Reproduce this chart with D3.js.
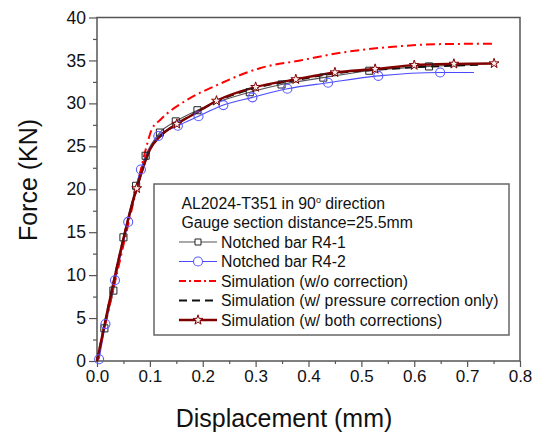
<!DOCTYPE html>
<html>
<head>
<meta charset="utf-8">
<script src="https://cdn.jsdelivr.net/npm/d3@7"></script>
<style>
  body { margin: 0; background: #fff; }
  svg { font-family: "Liberation Sans", Arial, sans-serif; }
</style>
</head>
<body>
<svg id="chart" width="537" height="432"></svg>
<script>
// Data (displacement mm, force kN)
const r41Line = [[0,0],[0.014,3.8],[0.031,8.2],[0.05,14.4],[0.074,20.4],[0.092,23.9],[0.119,26.6],[0.149,27.9],[0.19,29.2],[0.24,30.4],[0.289,31.3],[0.349,32.2],[0.428,33.0],[0.515,33.8],[0.628,34.3],[0.72,34.5]];
const r41Marks = [[0.014,3.8],[0.031,8.2],[0.05,14.4],[0.074,20.4],[0.092,23.9],[0.119,26.6],[0.149,27.9],[0.19,29.2],[0.289,31.3],[0.349,32.2],[0.428,33.0],[0.515,33.8],[0.628,34.3]];

const r42Line = [[0.004,0.2],[0.016,4.3],[0.034,9.4],[0.059,16.2],[0.083,22.3],[0.1,24.8],[0.116,26.2],[0.153,27.4],[0.192,28.5],[0.239,29.8],[0.294,30.7],[0.36,31.7],[0.437,32.4],[0.532,33.2],[0.649,33.6],[0.713,33.6]];
const r42Marks = [[0.004,0.2],[0.016,4.3],[0.034,9.4],[0.059,16.2],[0.083,22.3],[0.116,26.2],[0.153,27.4],[0.192,28.5],[0.239,29.8],[0.294,30.7],[0.36,31.7],[0.437,32.4],[0.532,33.2],[0.649,33.6]];

const simNoCorr = [[0,0],[0.075,20.1],[0.095,25.3],[0.103,26.9],[0.12,28.1],[0.17,30.4],[0.226,32.1],[0.308,34.1],[0.384,35.0],[0.472,36.0],[0.56,36.6],[0.649,36.9],[0.748,36.95]];
const simPressure = [[0,0],[0.075,20.1],[0.09,23.0],[0.1,24.6],[0.12,26.2],[0.151,27.6],[0.19,29.0],[0.226,30.2],[0.3,31.8],[0.376,32.7],[0.45,33.5],[0.526,33.9],[0.6,34.2],[0.675,34.4],[0.73,34.5]];
const simBoth = [[0,0],[0.075,20.1],[0.09,23.0],[0.1,24.6],[0.12,26.2],[0.151,27.6],[0.19,29.0],[0.226,30.3],[0.3,31.9],[0.376,32.8],[0.45,33.6],[0.526,34.0],[0.6,34.45],[0.675,34.6],[0.751,34.65]];
const simBothMarks = [[0.075,20.1],[0.151,27.6],[0.226,30.3],[0.3,31.9],[0.376,32.8],[0.45,33.6],[0.526,34.0],[0.6,34.45],[0.675,34.6],[0.751,34.65]];

const xTicks = [0,0.1,0.2,0.3,0.4,0.5,0.6,0.7,0.8];
const yTicks = [0,5,10,15,20,25,30,35,40];

const legendHeader = ["AL2024-T351 in 90", "Gauge section distance=25.5mm"];
const legendItems = ["Notched bar R4-1", "Notched bar R4-2", "Simulation (w/o correction)",
  "Simulation (w/ pressure correction only)", "Simulation (w/ both corrections)"];

const svg = d3.select("#chart");
const margin = { left: 97, right: 17, top: 17.5, bottom: 71 };
const W = 537, H = 432;

const x = d3.scaleLinear().domain([0, 0.8]).range([margin.left, W - margin.right]);
const y = d3.scaleLinear().domain([0, 40]).range([H - margin.bottom, margin.top]);

const axisColor = "#555";

// frame
svg.append("rect")
  .attr("x", x(0)).attr("y", y(40))
  .attr("width", x(0.8) - x(0)).attr("height", y(0) - y(40))
  .attr("fill", "none").attr("stroke", axisColor).attr("stroke-width", 1.5);

// axes
const xMinor = d3.range(0.05, 0.8, 0.1);
const yMinor = d3.range(2.5, 40, 5);

const gx = svg.append("g").attr("transform", `translate(0,${y(0)})`);
gx.call(d3.axisBottom(x).tickValues(xTicks).tickFormat(d3.format(".1f")).tickSize(6).tickPadding(3));
gx.append("g").call(d3.axisBottom(x).tickValues(xMinor).tickFormat("").tickSize(3));

const gy = svg.append("g").attr("transform", `translate(${x(0)},0)`);
gy.call(d3.axisLeft(y).tickValues(yTicks).tickSize(8).tickPadding(3));
gy.append("g").call(d3.axisLeft(y).tickValues(yMinor).tickFormat("").tickSize(4));

svg.selectAll(".domain").remove();
svg.selectAll(".tick line").attr("stroke", axisColor).attr("stroke-width", 1.2);
gx.selectAll(".tick text").attr("font-size", 17).attr("fill", "#111").attr("font-family", "Liberation Sans, Arial");
gy.selectAll(".tick text").attr("font-size", 17.5).attr("fill", "#111").attr("font-family", "Liberation Sans, Arial");

// axis titles
svg.append("text").attr("x", 284).attr("y", 427).attr("text-anchor", "middle")
  .attr("font-size", 25).attr("fill", "#111").text("Displacement (mm)");
svg.append("text").attr("transform", `translate(37,180) rotate(-90)`).attr("text-anchor", "middle")
  .attr("font-size", 25).attr("fill", "#111").text("Force (KN)");

// lines
const lineSmooth = d3.line().x(d => x(d[0])).y(d => y(d[1])).curve(d3.curveMonotoneX);

const plot = svg.append("g");

plot.append("path").datum(r41Line).attr("d", lineSmooth)
  .attr("fill", "none").attr("stroke", "#555").attr("stroke-width", 1.2);
plot.append("path").datum(r42Line).attr("d", lineSmooth)
  .attr("fill", "none").attr("stroke", "#4a4aff").attr("stroke-width", 1.1);
plot.append("path").datum(simNoCorr).attr("d", lineSmooth)
  .attr("fill", "none").attr("stroke", "#ff0000").attr("stroke-width", 2)
  .attr("stroke-dasharray", "9,4,2,4");
plot.append("path").datum(simPressure).attr("d", lineSmooth)
  .attr("fill", "none").attr("stroke", "#111").attr("stroke-width", 2)
  .attr("stroke-dasharray", "8,5");
plot.append("path").datum(simBoth).attr("d", lineSmooth)
  .attr("fill", "none").attr("stroke", "#800000").attr("stroke-width", 2.4);

// markers
const square = d3.symbol().type(d3.symbolSquare).size(50);
const star = d3.symbol().type(d3.symbolStar).size(30);

plot.selectAll(".sq").data(r41Marks).join("path").attr("class", "sq")
  .attr("transform", d => `translate(${x(d[0])},${y(d[1])})`).attr("d", square)
  .attr("fill", "none").attr("stroke", "#222").attr("stroke-width", 1);
plot.selectAll(".ci").data(r42Marks).join("circle").attr("class", "ci")
  .attr("cx", d => x(d[0])).attr("cy", d => y(d[1])).attr("r", 4.5)
  .attr("fill", "none").attr("stroke", "#5a5aff").attr("stroke-width", 1.1);
plot.selectAll(".st").data(simBothMarks).join("path").attr("class", "st")
  .attr("transform", d => `translate(${x(d[0])},${y(d[1])})`).attr("d", star)
  .attr("fill", "#fbeeee").attr("stroke", "#800000").attr("stroke-width", 1);

// legend
const lg = svg.append("g");
lg.append("rect").attr("x", 154).attr("y", 184).attr("width", 355).attr("height", 151)
  .attr("fill", "#fff").attr("stroke", "#666").attr("stroke-width", 1.5);

const rowY = i => 203 + i * 19.5;
const fs = 15.8;

const h0 = lg.append("text").attr("x", 181.5).attr("y", rowY(0)).attr("dy", "0.35em").attr("font-size", fs).attr("fill", "#111");
h0.append("tspan").text(legendHeader[0]);
h0.append("tspan").attr("font-size", 9).attr("dy", -6).text("o");
h0.append("tspan").attr("dy", 6).text(" direction");
lg.append("text").attr("x", 181.5).attr("y", rowY(1)).attr("dy", "0.35em").attr("font-size", fs).attr("fill", "#111")
  .text(legendHeader[1]);

const styles = [
  { stroke: "#555", w: 1.2, dash: null, mark: "sq" },
  { stroke: "#4a4aff", w: 1.1, dash: null, mark: "ci" },
  { stroke: "#ff0000", w: 2, dash: "7,3,2,3", mark: null },
  { stroke: "#111", w: 2, dash: "8,5", mark: null },
  { stroke: "#800000", w: 2.4, dash: null, mark: "st" }
];

legendItems.forEach((t, i) => {
  const cy = rowY(i + 2);
  const s = styles[i];
  lg.append("line").attr("x1", 179).attr("x2", 217).attr("y1", cy).attr("y2", cy)
    .attr("stroke", s.stroke).attr("stroke-width", s.w).attr("stroke-dasharray", s.dash);
  if (s.mark === "sq") {
    lg.append("path").attr("transform", `translate(198,${cy})`).attr("d", d3.symbol().type(d3.symbolSquare).size(36))
      .attr("fill", "#fff").attr("stroke", "#222").attr("stroke-width", 1);
  } else if (s.mark === "ci") {
    lg.append("circle").attr("cx", 198).attr("cy", cy).attr("r", 4.5)
      .attr("fill", "#fff").attr("stroke", "#5a5aff").attr("stroke-width", 1.1);
  } else if (s.mark === "st") {
    lg.append("path").attr("transform", `translate(198,${cy})`).attr("d", star)
      .attr("fill", "#fbeeee").attr("stroke", "#800000").attr("stroke-width", 1);
  }
  lg.append("text").attr("x", 221).attr("y", cy).attr("dy", "0.35em").attr("font-size", fs).attr("fill", "#111").text(t);
});
</script>
</body>
</html>
